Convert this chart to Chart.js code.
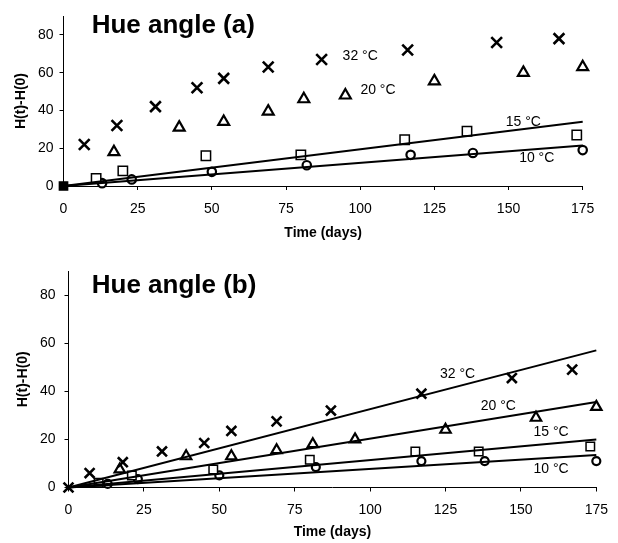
<!DOCTYPE html>
<html>
<head>
<meta charset="utf-8">
<script src="https://cdn.jsdelivr.net/npm/chart.js@4"></script>
<style>
  html, body { margin: 0; padding: 0; background: #fff; }
  body { width: 618px; height: 543px; position: relative; overflow: hidden; }
  canvas { position: absolute; left: 0; }
  #ca { top: 0; }
  #cb { top: 248px; }
</style>
</head>
<body>
<canvas id="ca" width="618" height="248"></canvas>
<canvas id="cb" width="618" height="295"></canvas>
<script>
// ---------- data: panel (a) ----------
const xTicks = [0, 25, 50, 75, 100, 125, 150, 175];
const yTicks = [0, 20, 40, 60, 80];
const seriesNames = ['32 °C', '20 °C', '15 °C', '10 °C'];

const daysA32 = [7, 18, 31, 45, 54, 69, 87, 116, 146, 167];
const valsA32 = [22, 32, 42, 52, 57, 63, 67, 72, 76, 78];
const daysA20 = [17, 39, 54, 69, 81, 95, 125, 155, 175];
const valsA20 = [18, 31, 34, 39.5, 46, 48, 55.5, 60, 63];
const daysA15 = [0, 11, 20, 48, 80, 115, 136, 173];
const valsA15 = [0, 4, 8, 16, 16.5, 24.5, 29, 27];
const daysA10 = [13, 23, 50, 82, 117, 138, 175];
const valsA10 = [1.5, 3.5, 7.5, 11, 16.5, 17.5, 19];
const fitDays = [0, 175];
const fitA15 = [0, 34];
const fitA10 = [0, 21.5];
const labelPosA = [[100, 68.5], [106, 50.5], [155, 34], [159.5, 14.5]];
const titleA = 'Hue angle (a)';
const titlePosA = [37, 85];

// ---------- data: panel (b) ----------
const daysB32 = [0, 7, 18, 31, 45, 54, 69, 87, 117, 147, 167];
const valsB32 = [0, 6, 10.5, 15, 18.5, 23.5, 27.5, 32, 39, 45.5, 49];
const daysB20 = [17, 39, 54, 69, 81, 95, 125, 155, 175];
const valsB20 = [7.5, 13, 13, 15.5, 18, 20, 24, 29, 33.5];
const daysB15 = [10, 21, 48, 80, 115, 136, 173];
const valsB15 = [2, 5, 7.5, 11.5, 15, 15, 17];
const daysB10 = [13, 23, 50, 82, 117, 138, 175];
const valsB10 = [1.5, 3.5, 5, 8.5, 11, 11, 11];
const fitB32 = [0, 57];
const fitB20 = [0, 35.5];
const fitB15 = [0, 20];
const fitB10 = [0, 13.5];
const labelPosB = [[129, 47], [142.5, 34], [160, 23], [160, 7.7]];
const titleB = 'Hue angle (b)';
const titlePosB = [35, 84];

const xTitle = 'Time (days)';
const yTitle = 'H(t)-H(0)';

// ---------- helpers ----------
const pts = (xs, ys) => xs.map((x, i) => ({x: x, y: ys[i]}));
const FONT = "'Liberation Sans', Arial, sans-serif";

function markerSet(label, xs, ys, style, r, lw, bg) {
  return {
    label: label, data: pts(xs, ys), showLine: false, clip: false,
    pointStyle: style, pointRadius: r, pointHoverRadius: r,
    pointBorderWidth: lw, borderColor: '#000', pointBorderColor: '#000',
    pointBackgroundColor: bg || '#fff', backgroundColor: '#fff'
  };
}
function fitSet(ys) {
  return {
    data: pts(fitDays, ys), showLine: true, pointRadius: 0, clip: false,
    borderColor: '#000', borderWidth: 2, fill: false
  };
}

const annot = {
  id: 'annot',
  afterDatasetsDraw(chart, args, opts) {
    const {ctx, scales} = chart;
    const xs = scales.x, ys = scales.y;
    ctx.save();
    ctx.fillStyle = '#000';
    ctx.textAlign = 'center';
    ctx.textBaseline = 'middle';
    ctx.font = 'bold 26px ' + FONT;
    ctx.fillText(opts.title, xs.getPixelForValue(opts.titlePos[0]), ys.getPixelForValue(opts.titlePos[1]));
    ctx.font = '14px ' + FONT;
    opts.labels.forEach((p, i) => {
      ctx.fillText(seriesNames[i], xs.getPixelForValue(p[0]), ys.getPixelForValue(p[1]));
    });
    ctx.restore();
  }
};

function makeOptions(cfg) {
  return {
    responsive: false, animation: false, devicePixelRatio: 1,
    layout: {padding: {left: 0, right: cfg.padRight, top: cfg.padTop, bottom: 0}},
    plugins: {
      legend: {display: false}, tooltip: {enabled: false},
      annot: {title: cfg.title, titlePos: cfg.titlePos, labels: cfg.labels}
    },
    scales: {
      x: {
        type: 'linear', min: 0, max: 175,
        afterFit: s => { s.height = cfg.xHeight; },
        afterBuildTicks: s => { s.ticks = xTicks.map(v => ({value: v})); },
        ticks: {stepSize: 25, color: '#000', font: {family: FONT, size: 14}, padding: cfg.xTickPad, maxRotation: 0},
        grid: {drawOnChartArea: false, drawTicks: true, tickLength: 4, color: '#000'},
        border: {display: true, color: '#000', width: 1},
        title: {display: true, text: xTitle, color: '#000',
                font: {family: FONT, size: 14, weight: 'bold'},
                padding: {top: 0, bottom: cfg.xTitlePad}}
      },
      y: {
        type: 'linear', min: 0, max: 90,
        afterFit: s => { s.width = cfg.yWidth; },
        afterBuildTicks: s => { s.ticks = yTicks.map(v => ({value: v})); },
        ticks: {stepSize: 20, color: '#000', font: {family: FONT, size: 14}, padding: cfg.yTickPad},
        grid: {drawOnChartArea: false, drawTicks: true, tickLength: 4, color: '#000'},
        border: {display: true, color: '#000', width: 1},
        title: {display: true, text: yTitle, color: '#000',
                font: {family: FONT, size: 14, weight: 'bold'},
                padding: {top: cfg.yTitlePad, bottom: 0}}
      }
    }
  };
}

// ---------- panel (a) ----------
const a15 = markerSet('15 °C', daysA15, valsA15, 'rect', 6.6, 1.5);
a15.pointBackgroundColor = daysA15.map(d => d === 0 ? '#000' : '#fff');
a15.pointRadius = daysA15.map(d => d === 0 ? 5.8 : 6.6);

new Chart(document.getElementById('ca'), {
  type: 'scatter',
  data: {datasets: [
    fitSet(fitA15), fitSet(fitA10),
    markerSet('32 °C', daysA32, valsA32, 'crossRot', 7.6, 2.6),
    markerSet('20 °C', daysA20, valsA20, 'triangle', 6.3, 2.2),
    a15,
    markerSet('10 °C', daysA10, valsA10, 'circle', 4.2, 2.2)
  ]},
  options: makeOptions({
    padRight: 35.3, padTop: 16, xHeight: 62, yWidth: 63.5,
    xTickPad: 11, xTitlePad: 6.6, yTickPad: 6, yTitlePad: 12.5,
    title: titleA, titlePos: titlePosA, labels: labelPosA
  }),
  plugins: [annot]
});

// ---------- panel (b) ----------
new Chart(document.getElementById('cb'), {
  type: 'scatter',
  data: {datasets: [
    fitSet(fitB32), fitSet(fitB20), fitSet(fitB15), fitSet(fitB10),
    markerSet('32 °C', daysB32, valsB32, 'crossRot', 7, 2.6),
    markerSet('20 °C', daysB20, valsB20, 'triangle', 6, 2.2),
    markerSet('15 °C', daysB15, valsB15, 'rect', 6, 1.5),
    markerSet('10 °C', daysB10, valsB10, 'circle', 4, 2.2)
  ]},
  options: makeOptions({
    padRight: 15.3, padTop: 23, xHeight: 55.5, yWidth: 68.5,
    xTickPad: 10, xTitlePad: 2.1, yTickPad: 9, yTitlePad: 14.6,
    title: titleB, titlePos: titlePosB, labels: labelPosB
  }),
  plugins: [annot]
});
</script>
</body>
</html>
